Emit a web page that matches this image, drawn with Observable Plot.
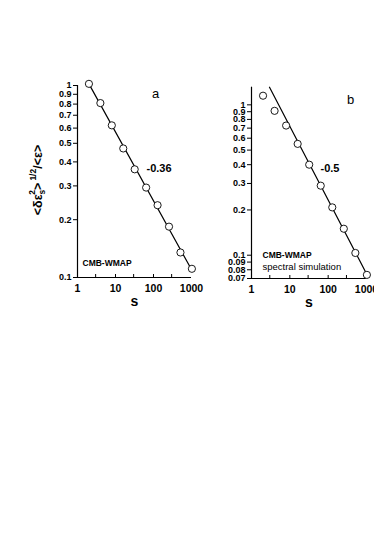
<!DOCTYPE html>
<html>
<head>
<meta charset="utf-8">
<script src="https://cdn.jsdelivr.net/npm/d3@7"></script>
<script src="https://cdn.jsdelivr.net/npm/@observablehq/plot@0.6"></script>
<style>
  html, body { margin: 0; padding: 0; background: #fff; }
  #wrap { position: relative; width: 374px; height: 539px; overflow: hidden; background: #fff; }
  .panel { position: absolute; top: 0; }
  svg { font-family: "Liberation Sans", Arial, Helvetica, sans-serif; }
</style>
</head>
<body>
<div id="wrap">
  <div class="panel" id="pa" style="left:0px"></div>
  <div class="panel" id="pb" style="left:185px"></div>
</div>
<script>
// ---- data ----
const scales = [2, 4, 8, 16, 32, 64, 128, 256, 512, 1024];
const valuesA = [1.02, 0.81, 0.62, 0.47, 0.366, 0.294, 0.238, 0.184, 0.135, 0.111];
const valuesB = [1.15, 0.912, 0.728, 0.55, 0.40, 0.29, 0.208, 0.15, 0.1035, 0.074];
const fitAs = [2, 1024];
const fitAv = [1.02, 0.109];
const fitBs = [2.95, 1024];
const fitBv = [1.31, 0.0745];
const slopeA = "-0.36";
const slopeB = "-0.5";
const xTickLabels = [1, 10, 100, 1000];
const xMinorTicks = [3, 10, 30, 100, 300];
const yTicksA = [1, 0.9, 0.8, 0.7, 0.6, 0.5, 0.4, 0.3, 0.2, 0.1];
const yTicksB = [1, 0.9, 0.8, 0.7, 0.6, 0.5, 0.4, 0.3, 0.2, 0.1, 0.09, 0.08, 0.07];

const ptsA = scales.map((s, i) => ({s, v: valuesA[i]}));
const ptsB = scales.map((s, i) => ({s, v: valuesB[i]}));
const lineA = fitAs.map((s, i) => ({s, v: fitAv[i]}));
const lineB = fitBs.map((s, i) => ({s, v: fitBv[i]}));

const font = "Liberation Sans, Arial, Helvetica, sans-serif";

function panel({pts, line, yDomain, yTicks, width, height, mt, mb, ml, mr, texts}) {
  const frameW = width - ml - mr;
  return Plot.plot({
    width, height,
    marginTop: mt, marginBottom: mb, marginLeft: ml, marginRight: mr,
    style: {fontFamily: font, background: "transparent", overflow: "visible"},
    x: {type: "log", domain: [1, 1000], axis: null},
    y: {type: "log", domain: yDomain, axis: null},
    marks: [
      Plot.ruleX([1], {stroke: "black", strokeWidth: 1.2}),
      Plot.ruleY([yDomain[0]], {stroke: "black", strokeWidth: 1.2}),
      Plot.tickY(yTicks, {y: d => d, stroke: "black", strokeWidth: 1, insetLeft: -4, insetRight: frameW}),
      Plot.text(yTicks, {y: d => d, text: d => String(d), frameAnchor: "left", dx: -6,
        textAnchor: "end", lineAnchor: "middle", fontWeight: "bold", fontSize: 9, fill: "black"}),
      Plot.text(xTickLabels, {x: d => d, text: d => String(d), frameAnchor: "bottom", dy: 11,
        textAnchor: "middle", lineAnchor: "middle", fontWeight: "bold", fontSize: 10.5, fill: "black"}),
      Plot.tickX(xMinorTicks, {x: d => d, stroke: "black", strokeWidth: 1, insetTop: height - mt - mb - 3, insetBottom: 0}),
      Plot.line(line, {x: "s", y: "v", stroke: "black", strokeWidth: 1.2}),
      Plot.dot(pts, {x: "s", y: "v", r: 3.6, fill: "white", stroke: "black", strokeWidth: 0.9}),
      Plot.text(["s"], {frameAnchor: "bottom", dy: 24, fontWeight: "bold", fontSize: 14, lineAnchor: "middle"}),
      ...texts.map(t => Plot.text([t.text], {frameAnchor: "top-left", dx: t.dx, dy: t.dy,
        textAnchor: t.anchor || "start", lineAnchor: "middle", fontSize: t.size,
        fontWeight: t.weight || "normal", fill: "black"}))
    ]
  });
}

const a = panel({
  pts: ptsA, line: lineA, yDomain: [0.1, 1], yTicks: yTicksA,
  width: 200, height: 320, mt: 85, mb: 43, ml: 77, mr: 9,
  texts: [
    {text: "a", dx: 78, dy: 8, anchor: "middle", size: 13},
    {text: slopeA, dx: 69, dy: 83, size: 11, weight: "bold"},
    {text: "CMB-WMAP", dx: 5, dy: 178, size: 8.5, weight: "bold"}
  ]
});
const b = panel({
  pts: ptsB, line: lineB, yDomain: [0.07, 1.31], yTicks: yTicksB,
  width: 189, height: 320, mt: 86.7, mb: 42, ml: 66, mr: 8,
  texts: [
    {text: "b", dx: 99, dy: 13, anchor: "middle", size: 13},
    {text: slopeB, dx: 69, dy: 81, size: 11, weight: "bold"},
    {text: "CMB-WMAP", dx: 11, dy: 168, size: 8.5, weight: "bold"},
    {text: "spectral simulation", dx: 11, dy: 180, size: 9.5}
  ]
});
document.getElementById("pa").appendChild(a);
document.getElementById("pb").appendChild(b);

// y-axis title with sub/superscripts for panel a
const t = d3.select(a).append("text")
  .attr("transform", "translate(42,180) rotate(-90)")
  .attr("text-anchor", "middle")
  .attr("font-family", font)
  .attr("font-weight", "bold")
  .attr("font-size", 12.5)
  .attr("fill", "black");
t.append("tspan").text("<δε");
t.append("tspan").attr("font-size", 8.5).attr("dy", 3).text("s");
t.append("tspan").attr("font-size", 8.5).attr("dx", -5).attr("dy", -10).text("2");
t.append("tspan").attr("dy", 7).text(">");
t.append("tspan").attr("font-size", 8.5).attr("dx", 2).attr("dy", -6).text("1/2");
t.append("tspan").attr("dy", 6).text("/<ε>");
</script>
</body>
</html>
